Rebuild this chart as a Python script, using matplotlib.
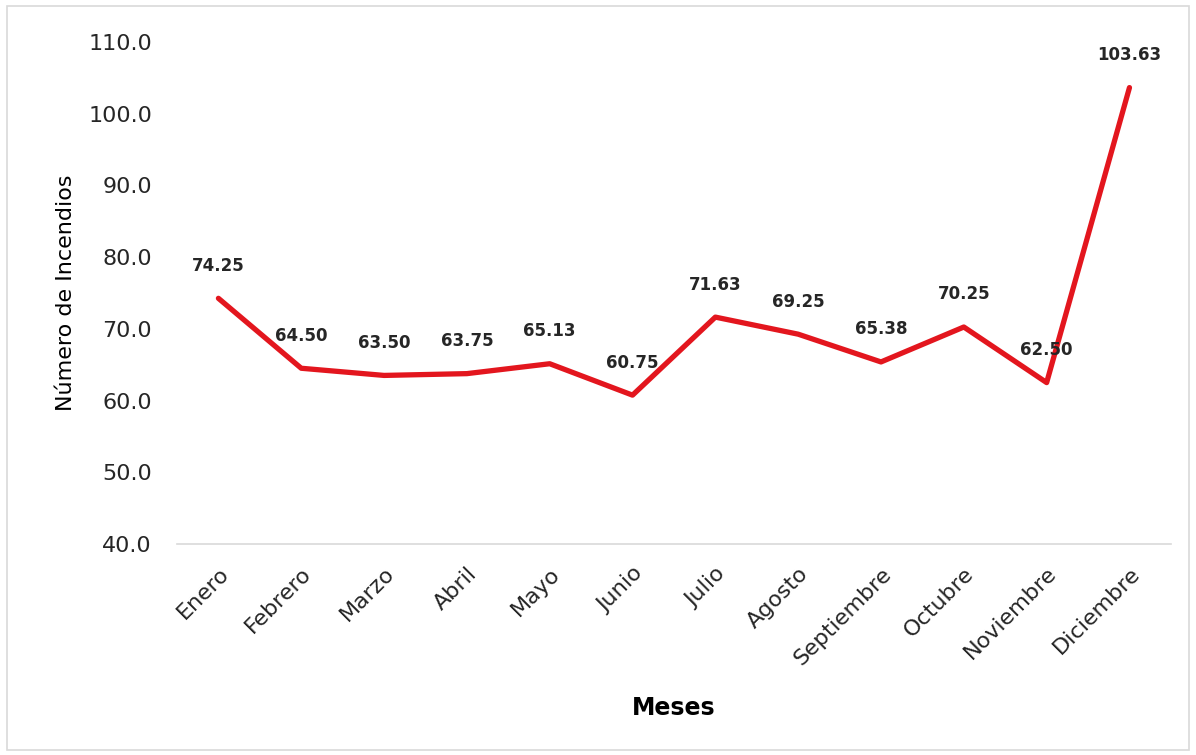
import matplotlib
matplotlib.use("Agg")
import matplotlib.pyplot as plt
from matplotlib.patches import Rectangle

months = ["Enero", "Febrero", "Marzo", "Abril", "Mayo", "Junio", "Julio",
          "Agosto", "Septiembre", "Octubre", "Noviembre", "Diciembre"]
values = [74.25, 64.50, 63.50, 63.75, 65.13, 60.75, 71.63, 69.25, 65.38, 70.25, 62.50, 103.63]
yticks = [40, 50, 60, 70, 80, 90, 100, 110]

plt.rcParams['font.family'] = ['DejaVu Sans']

fig = plt.figure(figsize=(11.96, 7.55), dpi=100)
fig.patches.append(Rectangle((0.006, 0.006), 0.988, 0.986, transform=fig.transFigure,
                             fill=False, edgecolor='#D9D9D9', linewidth=1.2))
ax = fig.add_axes([0.148, 0.2795, 0.831, 0.665])

x = list(range(len(months)))
ax.plot(x, values, color='#E3161E', linewidth=3.8, solid_capstyle='round', solid_joinstyle='round')

for xi, v in zip(x, values):
    ax.annotate(f"{v:.2f}", (xi, v), xytext=(0, 17), textcoords='offset points',
                ha='center', va='bottom', fontsize=12, fontweight='bold', color='#262626')

ax.set_xlim(-0.5, 11.5)
ax.set_ylim(40, 110)
ax.set_yticks(yticks)
ax.set_yticklabels([f"{t:.1f}" for t in yticks], fontsize=16, color='#262626')
ax.set_xticks(x)
ax.set_xticklabels(months, rotation=45, ha='right', rotation_mode='anchor', fontsize=16, color='#262626')
ax.tick_params(axis='both', length=0)
ax.tick_params(axis='y', pad=18)
ax.tick_params(axis='x', pad=14)

for s in ['top', 'right', 'left']:
    ax.spines[s].set_visible(False)
ax.spines['bottom'].set_color('#D9D9D9')
ax.spines['bottom'].set_linewidth(1.2)

ax.set_ylabel("Número de Incendios", fontsize=16, color='#000000', labelpad=9)
ax.set_xlabel("Meses", fontsize=17, fontweight='bold', color='#000000', labelpad=20)

fig.savefig("out.png", dpi=100)
